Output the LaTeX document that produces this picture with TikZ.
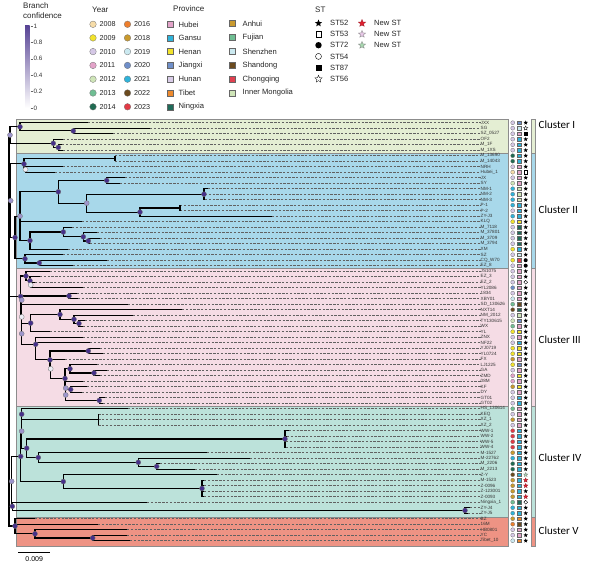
\documentclass[tikz,border=0pt]{standalone}
\usepackage{fontspec}
\setmainfont{Liberation Sans}
\newfontfamily\calib{Carlito}
\usetikzlibrary{shapes.geometric}
\definecolor{cdark}{HTML}{46308A}
\definecolor{cmid}{HTML}{9D95CC}
\definecolor{clow}{HTML}{EEEEF6}
\definecolor{bI}{HTML}{E4EED3}
\definecolor{bII}{HTML}{A8D8EA}
\definecolor{bIII}{HTML}{F5DCE5}
\definecolor{bIV}{HTML}{BCE2DA}
\definecolor{bV}{HTML}{EE9384}
\definecolor{y08}{HTML}{F6DCA8}
\definecolor{y09}{HTML}{F2E32B}
\definecolor{y10}{HTML}{D5C8E6}
\definecolor{y11}{HTML}{E3A3C9}
\definecolor{y12}{HTML}{CFE5B8}
\definecolor{y13}{HTML}{6FBE93}
\definecolor{y14}{HTML}{1F6B52}
\definecolor{y16}{HTML}{EE7F2D}
\definecolor{y18}{HTML}{C99A2E}
\definecolor{y19}{HTML}{CBE9F0}
\definecolor{y20}{HTML}{6F8FC9}
\definecolor{y21}{HTML}{2FB3DA}
\definecolor{y22}{HTML}{6B4A1E}
\definecolor{y23}{HTML}{E23A45}
\definecolor{pHub}{HTML}{E3A3C9}
\definecolor{pGan}{HTML}{2FB3DA}
\definecolor{pHen}{HTML}{F2E32B}
\definecolor{pJia}{HTML}{6F8FC9}
\definecolor{pHun}{HTML}{D9CCE8}
\definecolor{pTib}{HTML}{EE8A2D}
\definecolor{pNin}{HTML}{1F6B5A}
\definecolor{pAnh}{HTML}{C99A2E}
\definecolor{pFuj}{HTML}{6FBE93}
\definecolor{pShz}{HTML}{CBE9F0}
\definecolor{pShd}{HTML}{6B4A1E}
\definecolor{pChq}{HTML}{E04050}
\definecolor{pInm}{HTML}{CFE5B8}
\definecolor{sRed}{HTML}{E02030}
\definecolor{sPink}{HTML}{E8C8E8}
\definecolor{sGrn}{HTML}{A8D8B0}
\tikzset{
 br/.style={line width=1.1pt, black},
 dsh/.style={draw=black!62, line width=0.5pt, dash pattern=on 2.3pt off 1.5pt},
 lbl/.style={font=\fontsize{4.6}{5}\selectfont, inner sep=0pt, anchor=west, text=black!80},
 nd/.style={circle, draw=black!55, line width=0.3pt, minimum size=5pt, inner sep=0pt},
 nhi/.style={nd, fill=cdark},
 nmid/.style={nd, fill=cmid},
 nlo/.style={nd, fill=clow},
 yc/.style={circle, draw=black!55, line width=0.3pt, minimum size=4pt, inner sep=0pt},
 pv/.style={rectangle, draw=black!60, line width=0.3pt, minimum size=3.8pt, inner sep=0pt},
 sA/.style={star, star points=5, star point ratio=2.3, fill=black, inner sep=0pt, minimum size=4.6pt},
 sB/.style={rectangle, draw=black, fill=white, line width=0.4pt, minimum size=3.6pt, inner sep=0pt},
 sC/.style={circle, fill=black, minimum size=4pt, inner sep=0pt},
 sD/.style={circle, draw=black, fill=white, line width=0.4pt, minimum size=3.8pt, inner sep=0pt},
 sE/.style={rectangle, fill=black, minimum size=3.8pt, inner sep=0pt},
 sF/.style={star, star points=5, star point ratio=2.3, draw=black, fill=white, line width=0.3pt, inner sep=0pt, minimum size=4.6pt},
 sR/.style={sF, fill=sRed, draw=sRed!70!black},
 sP/.style={sF, fill=sPink, draw=black!50},
 sG/.style={sF, fill=sGrn, draw=black!50},
 ltx/.style={font=\fontsize{7.6}{8}\selectfont, anchor=west, inner sep=0pt, text=black!85},
 ytx/.style={font=\fontsize{7.2}{8}\selectfont, anchor=west, inner sep=0pt, text=black!85},
 hdr/.style={font=\fontsize{8}{9}\selectfont, anchor=west, inner sep=0pt, text=black!85},
 clab/.style={font=\calib\fontsize{11}{12}\selectfont, anchor=west, inner sep=0pt},
 band/.style={draw=black!45, line width=0.5pt},
}
\newcommand\tipL[6]{%
 \coordinate (t#1) at (#2,{122.7+5.5*#1});
 \node[lbl] (l#1) at (480.5,{122.7+5.5*#1}) {#3};
 \draw[dsh] (t#1) -- (l#1.west);
 \node[yc,fill=#4] (yy#1) at (512.7,{122.7+5.5*#1}) {};
 \node[pv,fill=#5] (pp#1) at (519.3,{122.7+5.5*#1}) {};
 \node[#6] (ss#1) at (525.7,{122.7+5.5*#1}) {};
}
\begin{document}
\begin{tikzpicture}[x=1pt,y=-1pt]
\useasboundingbox (0,0) rectangle (589,567);
\fill[white] (0,0) rectangle (589,567);
% bands
\filldraw[band,fill=bI] (16,119) rectangle (508,152.8);
\filldraw[band,fill=bII] (16,152.8) rectangle (508,268.4);
\filldraw[band,fill=bIII] (16,268.4) rectangle (508,406.3);
\filldraw[band,fill=bIV] (16,406.3) rectangle (508,517);
\filldraw[band,fill=bV] (16,517) rectangle (508,546.5);
% cluster bars
\filldraw[band,fill=bI] (531.5,119) rectangle (535.5,152.8);
\filldraw[band,fill=bII] (531.5,152.8) rectangle (535.5,268.4);
\filldraw[band,fill=bIII] (531.5,268.4) rectangle (535.5,406.3);
\filldraw[band,fill=bIV] (531.5,406.3) rectangle (535.5,517);
\filldraw[band,fill=bV] (531.5,517) rectangle (535.5,546.5);
\node[clab] (cl1) at (538.5,125) {Cluster I};
\node[clab] (cl2) at (538.5,210) {Cluster II};
\node[clab] (cl3) at (538.5,340) {Cluster III};
\node[clab] (cl4) at (538.5,458) {Cluster IV};
\node[clab] (cl5) at (538.5,531) {Cluster V};
% tips
\tipL{0}{88}{JXX}{y10}{pJia}{sA}
\tipL{1}{150}{SG}{y10}{pShz}{sF}
\tipL{2}{113}{SZ\_0527}{y10}{pHub}{sE}
\tipL{3}{63}{OF2}{y10}{pGan}{sA}
\tipL{4}{62}{M\_1F}{y10}{pGan}{sA}
\tipL{5}{63}{M\_1XS}{y10}{pGan}{sA}
\tipL{6}{115}{M\_13690}{y14}{pGan}{sA}
\tipL{7}{115}{M\_14043}{y14}{pGan}{sA}
\tipL{8}{63}{NRH}{y10}{pHub}{sA}
\tipL{9}{55}{Hubei\_1}{y08}{pHub}{sB}
\tipL{10}{125}{JX}{y10}{pHub}{sA}
\tipL{11}{120}{SY}{y12}{pHub}{sA}
\tipL{12}{208}{NM-1}{y21}{pInm}{sA}
\tipL{13}{205}{NM-2}{y21}{pInm}{sA}
\tipL{14}{205}{NM-3}{y21}{pInm}{sA}
\tipL{15}{180}{P-1}{y21}{pGan}{sA}
\tipL{16}{180}{P-2}{y10}{pGan}{sA}
\tipL{17}{272}{ZY-J3}{y21}{pGan}{sA}
\tipL{18}{82}{KLQ}{y09}{pHen}{sA}
\tipL{19}{72}{M\_7118}{y10}{pNin}{sA}
\tipL{20}{97}{M\_37801}{y10}{pNin}{sA}
\tipL{21}{100}{M\_3709}{y10}{pNin}{sA}
\tipL{22}{90}{M\_3794}{y10}{pNin}{sA}
\tipL{23}{68}{XM}{y09}{pGan}{sA}
\tipL{24}{63}{SZ}{y10}{pShz}{sA}
\tipL{25}{107}{CQ\_W70}{y09}{pChq}{sC}
\tipL{26}{73}{EZ\_8}{y10}{pHub}{sC}
\tipL{27}{50}{JS1075}{y10}{pHub}{sA}
\tipL{28}{40}{EZ\_3}{y10}{pHub}{sA}
\tipL{29}{35}{EZ\_2}{y10}{pHub}{sD}
\tipL{30}{83}{YL2086}{y20}{pHub}{sA}
\tipL{31}{77}{1834}{y10}{pHub}{sA}
\tipL{32}{78}{XBY01}{y19}{pHub}{sA}
\tipL{33}{128}{SD\_130626}{y13}{pShd}{sA}
\tipL{34}{182}{NXT14}{y22}{pNin}{sA}
\tipL{35}{133}{NM\_2012}{y10}{pInm}{sA}
\tipL{36}{85}{TY130615}{y12}{pJia}{sA}
\tipL{37}{83}{WX}{y13}{pHub}{sA}
\tipL{38}{50}{YL}{y09}{pHen}{sA}
\tipL{39}{83}{ZNX}{y10}{pHub}{sA}
\tipL{40}{90}{NF22}{y10}{pGan}{sA}
\tipL{41}{100}{YJ0719}{y09}{pHen}{sA}
\tipL{42}{103}{YL0724}{y09}{pHen}{sA}
\tipL{43}{65}{FX}{y18}{pHub}{sA}
\tipL{44}{97}{LJ1225}{y09}{pJia}{sA}
\tipL{45}{107}{GA}{y10}{pHub}{sA}
\tipL{46}{100}{ZMD}{y11}{pHen}{sA}
\tipL{47}{83}{08M}{y11}{pHub}{sA}
\tipL{48}{87}{KF}{y18}{pHen}{sA}
\tipL{49}{82}{DY}{y10}{pHub}{sA}
\tipL{50}{105}{GT01}{y10}{pGan}{sA}
\tipL{51}{103}{GT02}{y10}{pGan}{sA}
\tipL{52}{128}{HS\_130614}{y13}{pHub}{sA}
\tipL{53}{98.3}{KEQ}{y10}{pHub}{sA}
\tipL{54}{98.3}{XZ\_1}{y18}{pHub}{sA}
\tipL{55}{98.3}{XZ\_2}{y10}{pHub}{sA}
\tipL{56}{289}{WW-1}{y23}{pGan}{sA}
\tipL{57}{287}{WW-2}{y23}{pGan}{sA}
\tipL{58}{286}{WW-5}{y23}{pGan}{sA}
\tipL{59}{286}{WW-4}{y23}{pGan}{sA}
\tipL{60}{207}{M-1527}{y18}{pGan}{sA}
\tipL{61}{250}{M-22762}{y21}{pGan}{sA}
\tipL{62}{160}{M\_2206}{y14}{pGan}{sA}
\tipL{63}{195}{M\_2213}{y14}{pGan}{sA}
\tipL{64}{217}{Z-Y}{y22}{pGan}{sG}
\tipL{65}{204}{M-1523}{y18}{pGan}{sR}
\tipL{66}{204}{Z-0096}{y18}{pGan}{sR}
\tipL{67}{204}{Z-123001}{y18}{pGan}{sA}
\tipL{68}{204}{Z-0093}{y18}{pGan}{sR}
\tipL{69}{147}{Ningxia\_1}{y13}{pNin}{sD}
\tipL{70}{470}{ZY-J4}{y21}{pGan}{sA}
\tipL{71}{468}{ZY-J5}{y21}{pGan}{sA}
\tipL{72}{35}{BZ}{y18}{pTib}{sA}
\tipL{73}{98}{16M}{y16}{pShd}{sA}
\tipL{74}{127}{HB0801}{y10}{pHub}{sA}
\tipL{75}{127}{YC}{y10}{pHub}{sA}
\tipL{76}{130}{Tibet\_10}{y19}{pTib}{sA}
% internal nodes
\coordinate (RT) at (9,330);
\coordinate (nCI) at (10,135.05);
\coordinate (nA) at (20,126.8);
\coordinate (nA2) at (73.3,130.95);
\coordinate (nB) at (53.3,143.3);
\coordinate (nC) at (58.3,147.45);
\coordinate (nK) at (10.7,200.7);
\coordinate (nD) at (24,163.95);
\coordinate (nDb) at (115,158.45);
\coordinate (nE) at (25.5,169.45);
\coordinate (nI) at (15,237.5);
\coordinate (nF) at (20,216.2);
\coordinate (nG) at (58.3,191.8);
\coordinate (nL) at (106.7,180.45);
\coordinate (nM) at (86.7,203.15);
\coordinate (nN) at (204,194.2);
\coordinate (nO) at (140,212.1);
\coordinate (nOb) at (180,207.95);
\coordinate (nH) at (30,240.6);
\coordinate (nP) at (63.3,232.0);
\coordinate (nQ) at (83.3,236.8);
\coordinate (nR) at (88.3,240.95);
\coordinate (nJ) at (25,258.8);
\coordinate (nS) at (39.3,262.95);
\coordinate (nW) at (20.7,296.45);
\coordinate (nT) at (26,276.0);
\coordinate (nU) at (30,280.8);
\coordinate (nV) at (30.7,284.95);
\coordinate (nZ) at (21.7,316.9);
\coordinate (nY) at (21.7,300.1);
\coordinate (nX) at (69,295.95);
\coordinate (nAA) at (21.7,333.7);
\coordinate (nBB) at (30.7,323.1);
\coordinate (nCC) at (60,314.5);
\coordinate (nCC2) at (74,319.3);
\coordinate (nCC3) at (79,323.45);
\coordinate (nDD) at (35.7,344.3);
\coordinate (nEE) at (50,359.9);
\coordinate (nFF) at (88.3,350.95);
\coordinate (nGG) at (50.7,368.8);
\coordinate (nII) at (65,378.45);
\coordinate (nHH) at (70,368.8);
\coordinate (nMM) at (94,372.95);
\coordinate (nPP) at (65.7,388.1);
\coordinate (nLL) at (65.7,394.95);
\coordinate (nNN) at (70.7,389.45);
\coordinate (nOO) at (99.3,400.45);
\coordinate (nC4) at (11.7,481.35);
\coordinate (nQ1) at (20.7,456.4);
\coordinate (nQ3) at (21.7,431.2);
\coordinate (nQ5) at (21.7,414.2);
\coordinate (nQ5b) at (98.3,419.7);
\coordinate (nQ6) at (26.7,448.2);
\coordinate (nWW) at (285,438.95);
\coordinate (nQ7) at (38.3,457.5);
\coordinate (nQ8) at (138.3,462.3);
\coordinate (nQ9) at (156.7,466.45);
\coordinate (nQ4) at (63.3,481.6);
\coordinate (nQ10) at (202,488.45);
\coordinate (nQ2) at (12.3,506.3);
\coordinate (nQ11) at (465,510.45);
\coordinate (nC5) at (15,526);
\coordinate (nC6) at (35,533.8);
\coordinate (nC7) at (92.7,537.95);
% branches
\foreach \a/\b in {RT/nCI,RT/nK,RT/nW,RT/nC4,RT/nC5,
 nCI/nA,nCI/nB,nA/t0,nA/nA2,nA2/t1,nA2/t2,nB/t3,nB/nC,nC/t4,nC/t5,
 nK/nD,nK/nI,nD/nDb,nD/nE,nDb/t6,nDb/t7,nE/t8,nE/t9,nI/nF,nI/nJ,nF/nG,nF/t18,nF/nH,
 nG/nL,nG/nM,nL/t10,nL/t11,nM/nN,nM/nO,nN/t12,nN/t13,nN/t14,nO/nOb,nO/t17,nOb/t15,nOb/t16,
 nH/nP,nH/t23,nP/t19,nP/nQ,nQ/t20,nQ/nR,nR/t21,nR/t22,nJ/t24,nJ/nS,nS/t25,nS/t26,
 nW/nT,nW/nZ,nT/t27,nT/nU,nU/t28,nU/nV,nV/t29,nV/t30,nZ/nY,nZ/nAA,nY/nX,nY/t33,nX/t31,nX/t32,
 nAA/nBB,nAA/nDD,nBB/nCC,nBB/t38,nCC/t34,nCC/nCC2,nCC2/t35,nCC2/nCC3,nCC3/t36,nCC3/t37,
 nDD/t39,nDD/t40,nDD/nEE,nEE/nFF,nEE/nGG,nFF/t41,nFF/t42,nGG/t43,nGG/nII,nII/nHH,nII/nPP,
 nHH/t44,nHH/nMM,nMM/t45,nMM/t46,nPP/t47,nPP/nLL,nLL/nNN,nLL/nOO,nNN/t48,nNN/t49,nOO/t50,nOO/t51,
 nC4/nQ1,nC4/nQ2,nQ1/nQ3,nQ1/nQ4,nQ3/nQ5,nQ3/nQ6,nQ5/t52,nQ5/nQ5b,nQ5b/t53,nQ5b/t54,nQ5b/t55,
 nQ6/nWW,nQ6/nQ7,nWW/t56,nWW/t57,nWW/t58,nWW/t59,nQ7/t60,nQ7/nQ8,nQ8/t61,nQ8/nQ9,nQ9/t62,nQ9/t63,
 nQ4/t64,nQ4/nQ10,nQ10/t65,nQ10/t66,nQ10/t67,nQ10/t68,nQ2/t69,nQ2/nQ11,nQ11/t70,nQ11/t71,
 nC5/t72,nC5/t73,nC5/nC6,nC6/t74,nC6/nC7,nC7/t75,nC7/t76}
 {\draw[br] (\a) |- (\b);}
% node markers
\foreach \n in {nA,nA2,nB,nC,nD,nI,nG,nL,nN,nO,nH,nP,nQ,nR,nJ,nS,nW,nT,nU,nX,nBB,nCC,nCC2,nCC3,nDD,nEE,nFF,nII,nHH,nMM,nNN,nOO,nQ1,nQ5,nQ6,nWW,nQ7,nQ8,nQ9,nQ4,nQ10,nQ2,nQ11,nC5,nC6,nC7}
 {\node[nhi] (m\n) at (\n) {};}
\foreach \n in {nCI,nK,nF,nM,nY,nAA,nPP,nLL,nQ3,nC4}
 {\node[nmid] (m\n) at (\n) {};}
\foreach \n in {nE,nV,nZ,nGG}
 {\node[nlo] (m\n) at (\n) {};}
% scale bar
\coordinate (sb1) at (18.3,552.3);
\coordinate (sb2) at (50,552.3);
\draw[line width=0.8pt] (sb1) -- (sb2);
\node[font=\fontsize{7}{8}\selectfont, inner sep=0pt] (sbl) at (34.2,559.5) {0.009};
% legend: branch confidence
\node[hdr] (bc1) at (23,5.5) {Branch};
\node[hdr] (bc2) at (23,15.8) {confidence};
\shade[top color=cdark!90, bottom color=white] (25,26) rectangle (29.5,108);
\foreach \yy/\t in {26/1,42.4/0.8,58.8/0.6,75.2/0.4,91.6/0.2,108/0}
 {\draw[black!60,line width=0.4pt] (30.5,\yy) -- (33,\yy);
  \node[font=\fontsize{6.3}{7}\selectfont, anchor=west, inner sep=0pt, text=black!80] (bt\t) at (33.5,\yy) {\t};}
% legend: year
\node[hdr] (yhd) at (92,10) {Year};
\foreach \yy/\c/\t in {24.3/y08/2008,37.9/y09/2009,51.6/y10/2010,65.4/y11/2011,79.2/y12/2012,93.0/y13/2013,106.8/y14/2014}
 {\node[yc,minimum size=6.6pt,fill=\c] (lyc\t) at (93,\yy) {};
  \node[ytx] (lyt\t) at (99.5,\yy) {\t};}
\foreach \yy/\c/\t in {24.3/y16/2016,37.9/y18/2018,51.6/y19/2019,65.4/y20/2020,79.2/y21/2021,93.0/y22/2022,106.8/y23/2023}
 {\node[yc,minimum size=6.6pt,fill=\c] (lyc\t) at (127.5,\yy) {};
  \node[ytx] (lyt\t) at (134,\yy) {\t};}
% legend: province
\node[hdr] (phd) at (173,9) {Province};
\foreach \yy/\c/\t in {24.3/pHub/Hubei,37.9/pGan/Gansu,51.6/pHen/Henan,65.4/pJia/Jiangxi,79.2/pHun/Hunan,93.0/pTib/Tibet,106.8/pNin/Ningxia}
 {\node[pv,minimum size=6pt,fill=\c] (lpc\t) at (170,\yy) {};
  \node[ltx] (lpt\t) at (178.5,\yy) {\t};}
\foreach \yy/\c/\t in {23.3/pAnh/Anhui,37.2/pFuj/Fujian,51.3/pShz/Shenzhen,65.4/pShd/Shandong,79.2/pChq/Chongqing,93.0/pInm/Inner Mongolia}
 {\node[pv,minimum size=6pt,fill=\c] (lpc\t) at (232,\yy) {};
  \node[ltx] (lpt\t) at (242.5,\yy) {\t};}
% legend: ST
\node[hdr] (sthd) at (315,10) {ST};
\node[sA,minimum size=7.6pt] (ls1) at (318.5,23.3) {};
\node[ltx] (lt1) at (330,23.3) {ST52};
\node[sB,minimum size=5.6pt] (ls2) at (318.5,34.2) {};
\node[ltx] (lt2) at (330,34.2) {ST53};
\node[sC,minimum size=6.4pt] (ls3) at (318.5,45.2) {};
\node[ltx] (lt3) at (330,45.2) {ST72};
\node[sD,minimum size=6pt] (ls4) at (318.5,56.4) {};
\node[ltx] (lt4) at (330,56.4) {ST54};
\node[sE,minimum size=6pt] (ls5) at (318.5,67.6) {};
\node[ltx] (lt5) at (330,67.6) {ST87};
\node[sF,minimum size=7.6pt] (ls6) at (318.5,79) {};
\node[ltx] (lt6) at (330,79) {ST56};
\node[sR,minimum size=7.6pt] (ls7) at (362,23.3) {};
\node[ltx] (lt7) at (374,23.3) {New ST};
\node[sP,minimum size=7.6pt] (ls8) at (362,34.2) {};
\node[ltx] (lt8) at (374,34.2) {New ST};
\node[sG,minimum size=7.6pt] (ls9) at (362,45.2) {};
\node[ltx] (lt9) at (374,45.2) {New ST};
\end{tikzpicture}
\end{document}
